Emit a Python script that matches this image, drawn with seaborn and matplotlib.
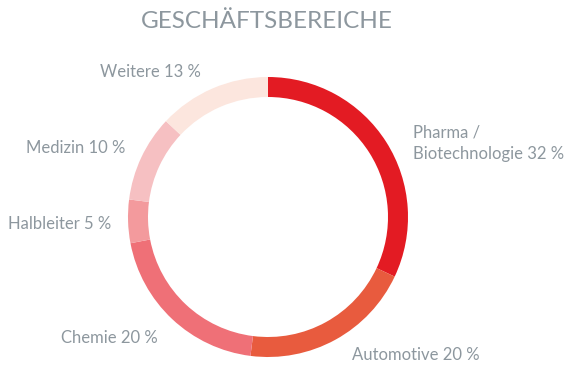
import matplotlib

matplotlib.use("Agg")
import matplotlib.pyplot as plt
import seaborn as sns

segments = ["Pharma /\nBiotechnologie", "Automotive", "Chemie", "Halbleiter", "Medizin", "Weitere"]
shares = [32, 20, 20, 5, 10, 13]
colors = ["#e31b23", "#e85b3e", "#ef7077", "#f39a9d", "#f6c0c2", "#fce6de"]

TEXT_GREY = "#8d979e"

sns.set_theme(style="white")
plt.rcParams["font.family"] = ["Lato", "DejaVu Sans"]

fig = plt.figure(figsize=(5.7, 3.86), dpi=100)
ax = fig.add_axes([0, 0, 1, 1])

# y axis is flipped below, so -90 points up and counterclock=True runs clockwise on screen
ax.pie(
    shares,
    colors=colors,
    startangle=-90,
    counterclock=True,
    center=(268, 217),
    radius=140,
    wedgeprops=dict(width=20, linewidth=0),
    frame=True,
)
ax.set_xlim(0, 570)
ax.set_ylim(386, 0)
ax.set_aspect("equal")
ax.axis("off")

labels = [f"{name} {share} %" for name, share in zip(segments, shares)]
label_pos = [
    (413, 143, "left"),
    (352, 355, "left"),
    (61, 338, "left"),
    (111, 224, "right"),
    (125, 148, "right"),
    (201, 72, "right"),
]
for text, (x, y, ha) in zip(labels, label_pos):
    ax.text(x, y, text, ha=ha, va="center", fontsize=12, color=TEXT_GREY, linespacing=1.4)

ax.text(267, 22, "GESCHÄFTSBEREICHE", ha="center", va="center", fontsize=17.5, color=TEXT_GREY)

fig.savefig("out.png", dpi=100)
